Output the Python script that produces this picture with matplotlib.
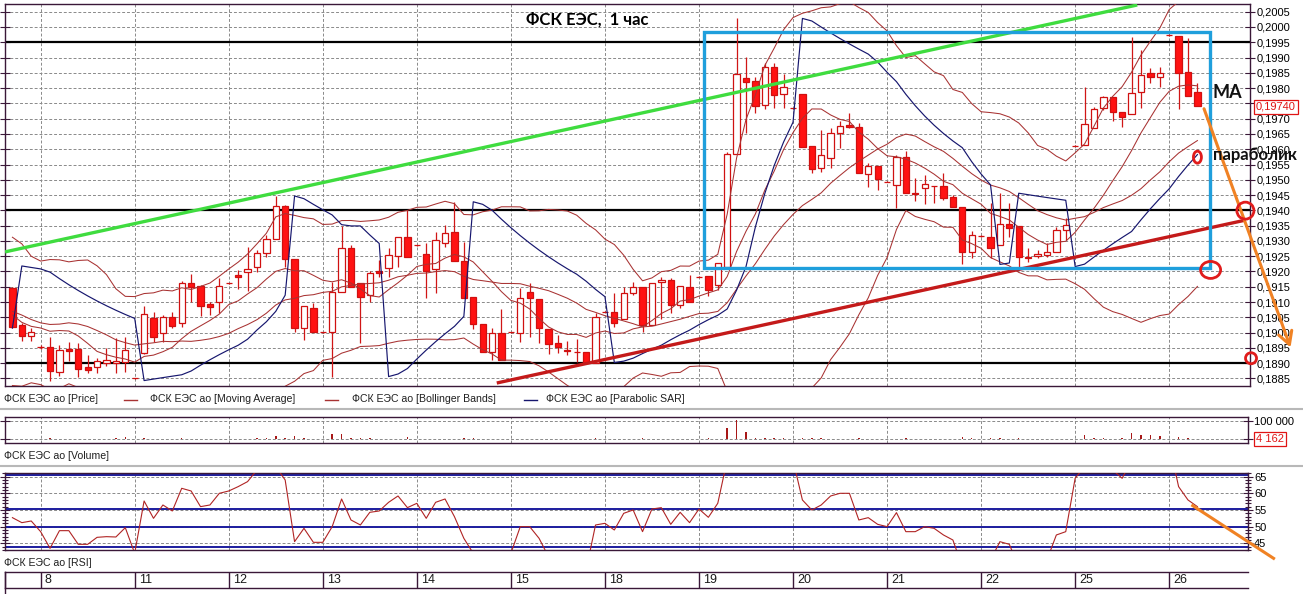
import numpy as np
import pandas as pd
import matplotlib
matplotlib.use("Agg")
import matplotlib.pyplot as plt
from matplotlib.patches import Rectangle, Ellipse, FancyArrowPatch
from matplotlib.lines import Line2D
from matplotlib.ticker import MultipleLocator, FixedLocator
import matplotlib.transforms as mtransforms

# ---------------- data ----------------
day_labels = ['8', '11', '12', '13', '14', '15', '18', '19', '20', '21', '22', '25', '26']
day_first_bar = [3, 13, 23, 33, 43, 53, 63, 73, 83, 93, 103, 113, 123]

open_ = [0.19147, 0.19025, 0.18988, 0.18952, 0.18952, 0.18870, 0.18945, 0.18945, 0.18886, 0.18888,
         0.18901, 0.18901, 0.18904, 0.18850, 0.18934, 0.19049, 0.18998, 0.19052, 0.19030, 0.19161,
         0.19152, 0.19093, 0.19099, 0.19161, 0.19187, 0.19197, 0.19214, 0.19259, 0.19305, 0.19414,
         0.19240, 0.19014, 0.19081, 0.19001, 0.19001, 0.19132, 0.19276, 0.19161, 0.19123, 0.19203,
         0.19210, 0.19251, 0.19313, 0.19286, 0.19257, 0.19207, 0.19292, 0.19330, 0.19235, 0.19115,
         0.19028, 0.18935, 0.18998, 0.19001, 0.19000, 0.19134, 0.19109, 0.19012, 0.18966, 0.18942,
         0.18936, 0.18935, 0.18902, 0.19068, 0.19068, 0.19043, 0.19130, 0.19150, 0.19025, 0.19165,
         0.19172, 0.19090, 0.19150, 0.19183, 0.19185, 0.19156, 0.19216, 0.19584, 0.19832, 0.19823,
         0.19745, 0.19868, 0.19780, 0.19734, 0.19780, 0.19611, 0.19538, 0.19570, 0.19652, 0.19679,
         0.19672, 0.19519, 0.19545, 0.19494, 0.19483, 0.19574, 0.19456, 0.19472, 0.19480, 0.19480,
         0.19445, 0.19410, 0.19265, 0.19316, 0.19312, 0.19287, 0.19355, 0.19349, 0.19248, 0.19251,
         0.19253, 0.19265, 0.19336, 0.19611, 0.19614, 0.19669, 0.19734, 0.19770, 0.19723, 0.19715,
         0.19788, 0.19850, 0.19835, 0.19974, 0.19971, 0.19854, 0.19786]
high = [0.19150, 0.19030, 0.19014, 0.18959, 0.18986, 0.18959, 0.18970, 0.18965, 0.18927, 0.18916,
        0.18949, 0.18981, 0.18986, 0.18853, 0.19087, 0.19068, 0.19058, 0.19068, 0.19169, 0.19191,
        0.19156, 0.19101, 0.19180, 0.19163, 0.19205, 0.19279, 0.19270, 0.19319, 0.19447, 0.19416,
        0.19242, 0.19087, 0.19098, 0.19003, 0.19167, 0.19349, 0.19287, 0.19161, 0.19202, 0.19237,
        0.19276, 0.19313, 0.19401, 0.19288, 0.19292, 0.19330, 0.19351, 0.19428, 0.19297, 0.19115,
        0.19028, 0.19014, 0.19076, 0.19003, 0.19145, 0.19161, 0.19109, 0.19012, 0.18992, 0.18973,
        0.18979, 0.18935, 0.19065, 0.19070, 0.19131, 0.19150, 0.19167, 0.19150, 0.19161, 0.19181,
        0.19178, 0.19153, 0.19188, 0.19185, 0.19185, 0.19227, 0.19590, 0.20028, 0.19901, 0.19837,
        0.19881, 0.19883, 0.19846, 0.19736, 0.19780, 0.19611, 0.19663, 0.19669, 0.19692, 0.19720,
        0.19687, 0.19556, 0.19545, 0.19496, 0.19581, 0.19595, 0.19505, 0.19516, 0.19480, 0.19523,
        0.19450, 0.19410, 0.19333, 0.19318, 0.19423, 0.19456, 0.19425, 0.19349, 0.19276, 0.19270,
        0.19294, 0.19346, 0.19374, 0.19613, 0.19803, 0.19739, 0.19774, 0.19772, 0.19723, 0.19968,
        0.19925, 0.19865, 0.19870, 0.19976, 0.19971, 0.19963, 0.19816]
low = [0.19015, 0.18973, 0.18973, 0.18946, 0.18843, 0.18859, 0.18908, 0.18856, 0.18867, 0.18867,
       0.18891, 0.18867, 0.18872, 0.18848, 0.18930, 0.18970, 0.18970, 0.19014, 0.19019, 0.19101,
       0.19055, 0.19058, 0.19063, 0.19159, 0.19142, 0.19137, 0.19199, 0.19246, 0.19305, 0.19216,
       0.19003, 0.18976, 0.19001, 0.18999, 0.18856, 0.19132, 0.19150, 0.18965, 0.19101, 0.19183,
       0.19183, 0.19216, 0.19248, 0.19284, 0.19112, 0.19129, 0.19280, 0.19235, 0.19114, 0.19012,
       0.18935, 0.18910, 0.18910, 0.18999, 0.18970, 0.18986, 0.18966, 0.18931, 0.18933, 0.18927,
       0.18905, 0.18902, 0.18902, 0.19066, 0.19019, 0.19043, 0.19123, 0.19003, 0.19025, 0.19043,
       0.19063, 0.19079, 0.19099, 0.19181, 0.19120, 0.19139, 0.19216, 0.19584, 0.19652, 0.19718,
       0.19731, 0.19736, 0.19736, 0.19732, 0.19608, 0.19521, 0.19526, 0.19538, 0.19603, 0.19670,
       0.19521, 0.19477, 0.19467, 0.19492, 0.19407, 0.19456, 0.19432, 0.19421, 0.19423, 0.19434,
       0.19410, 0.19223, 0.19243, 0.19314, 0.19243, 0.19287, 0.19314, 0.19216, 0.19232, 0.19243,
       0.19248, 0.19265, 0.19303, 0.19609, 0.19614, 0.19669, 0.19728, 0.19693, 0.19674, 0.19715,
       0.19735, 0.19816, 0.19803, 0.19972, 0.19731, 0.19774, 0.19740]
close = [0.19019, 0.18990, 0.19001, 0.18952, 0.18875, 0.18942, 0.18941, 0.18880, 0.18878, 0.18906,
         0.18910, 0.18908, 0.18943, 0.18850, 0.19061, 0.18986, 0.19052, 0.19023, 0.19161, 0.19148,
         0.19088, 0.19085, 0.19152, 0.19161, 0.19183, 0.19209, 0.19259, 0.19305, 0.19414, 0.19240,
         0.19014, 0.19087, 0.19001, 0.19001, 0.19132, 0.19276, 0.19150, 0.19115, 0.19194, 0.19194,
         0.19254, 0.19313, 0.19248, 0.19286, 0.19203, 0.19303, 0.19327, 0.19235, 0.19114, 0.19027,
         0.18935, 0.18998, 0.18910, 0.19001, 0.19114, 0.19112, 0.19014, 0.18961, 0.18954, 0.18940,
         0.18935, 0.18902, 0.19052, 0.19068, 0.19032, 0.19130, 0.19148, 0.19025, 0.19161, 0.19172,
         0.19090, 0.19153, 0.19099, 0.19183, 0.19139, 0.19227, 0.19584, 0.19846, 0.19821, 0.19741,
         0.19868, 0.19777, 0.19805, 0.19734, 0.19608, 0.19534, 0.19581, 0.19652, 0.19676, 0.19672,
         0.19521, 0.19545, 0.19501, 0.19494, 0.19576, 0.19456, 0.19455, 0.19485, 0.19479, 0.19439,
         0.19410, 0.19265, 0.19319, 0.19316, 0.19278, 0.19354, 0.19341, 0.19246, 0.19243, 0.19257,
         0.19264, 0.19336, 0.19352, 0.19611, 0.19682, 0.19732, 0.19770, 0.19723, 0.19704, 0.19783,
         0.19843, 0.19835, 0.19850, 0.19974, 0.19848, 0.19774, 0.19740]

# closes before the first visible bar (estimated so the bands start as in the picture)
warmup_close = [0.19231, 0.19294, 0.19169, 0.18981, 0.18919, 0.18856, 0.18956, 0.19044, 0.19169, 0.19194,
                0.19231, 0.19131, 0.19006, 0.18981, 0.18919, 0.18956, 0.19044, 0.19119, 0.19169]
sar_start = 0.19015
sar_ep_start = 0.19218

volume = [3000, 2000, 4000, 1500, 5000, 3000, 2000, 4000, 2000, 3000,
          2000, 5000, 14500, 1000, 6000, 3000, 2000, 4000, 5000, 3000,
          2000, 3000, 4000, 2000, 3000, 2000, 5000, 6000, 20000, 9000,
          20000, 5000, 3000, 1000, 27000, 27000, 6000, 8000, 5000, 3000,
          4000, 2000, 14500, 2000, 3000, 4000, 2000, 3000, 6000, 5000,
          4000, 3000, 2000, 1000, 3000, 2000, 4000, 3000, 2000, 2000,
          3000, 4000, 6000, 1000, 3000, 2000, 3000, 5000, 4000, 2000,
          3000, 2000, 4000, 1000, 5000, 4000, 60000, 105000, 42000, 9000,
          9000, 9000, 6000, 1000, 8000, 6000, 5000, 4000, 3000, 2000,
          5000, 3000, 4000, 1000, 3000, 5000, 2000, 3000, 2000, 4000,
          3000, 14500, 5000, 1000, 6000, 5000, 4000, 6000, 3000, 2000,
          3000, 4000, 3000, 1000, 24000, 6000, 5000, 4000, 6000, 36000,
          24000, 24000, 20000, 2000, 14500, 5000, 4162]

rsi = [52.7, 51.2, 51.7, 48.5, 43.5, 48.8, 48.8, 44.7, 44.7, 46.8,
       47.0, 46.9, 49.7, 42.0, 57.7, 52.5, 56.5, 54.7, 61.5, 60.7,
       56.0, 56.5, 60.0, 60.7, 62.0, 63.5, 67.0, 70.0, 68.0, 64.0,
       45.5, 49.5, 45.3, 45.3, 50.0, 58.3, 52.0, 50.5, 54.3, 54.7,
       57.3, 59.2, 55.7, 57.0, 52.5, 57.3, 58.3, 53.0, 46.5, 42.0,
       38.0, 40.0, 37.0, 42.0, 50.0, 50.0, 46.5, 41.0, 39.0, 38.0,
       38.0, 37.0, 50.5, 51.0, 49.0, 54.0, 55.0, 48.5, 55.3, 55.7,
       50.7, 54.3, 51.2, 55.3, 52.8, 57.0, 70.0, 80.0, 78.0, 74.0,
       77.0, 72.0, 73.0, 70.0, 58.0, 55.0, 56.5, 59.2, 60.0, 60.0,
       52.0, 52.7, 50.7, 50.0, 54.2, 48.5, 48.5, 50.0, 49.5, 47.5,
       46.0, 38.0, 41.0, 41.0, 40.0, 45.5, 44.7, 38.0, 38.0, 39.0,
       40.0, 47.5, 48.5, 64.5, 68.0, 71.0, 73.0, 67.0, 64.5, 70.0,
       72.0, 71.0, 71.0, 75.0, 62.0, 58.0, 56.0]
rsi_levels = [65.4, 55.2, 49.8, 43.8]

support_levels = [0.1995, 0.1940, 0.1890]
green_trend = ([-0.79, 119.6], [0.19264, 0.20072])
red_trend = ([51.5, 131.1], [0.18835, 0.19368])
box_range = ([73.5, 127.3], [0.19211, 0.19985])
arrow_price = ([126.6, 136.0], [0.19741, 0.18943])
arrow_rsi = ([125.5, 134.1], [56.3, 40.5])
circles = [(131.1, 0.19399, 1.81, 0.000556), (127.4, 0.19205, 2.13, 0.000556),
           (126.0, 0.19574, 0.85, 0.000393), (131.7, 0.18916, 1.17, 0.00036)]
last_price = 0.19740
last_volume = 4162

# ---------------- indicators ----------------
n = len(close)
x = np.arange(n)
allc = pd.Series(warmup_close + close)
k = len(warmup_close)
ma10 = allc.rolling(10, min_periods=1).mean().values[k:]
mid = allc.rolling(20, min_periods=1).mean().values[k:]
sd = allc.rolling(20, min_periods=1).std(ddof=0).values[k:]
bb_up, bb_lo = mid + 2 * sd, mid - 2 * sd

sar = np.zeros(n)
up_tr, s, ep, af = True, sar_start, sar_ep_start, 0.02
for i in range(n):
    if i > 0:
        s = s + af * (ep - s)
        if up_tr:
            s = min(s, low[i - 1], low[max(i - 2, 0)])
        else:
            s = max(s, high[i - 1], high[max(i - 2, 0)])
    if up_tr:
        if low[i] < s:
            up_tr, s, ep, af = False, ep, low[i], 0.02
        elif high[i] > ep:
            ep, af = high[i], min(af + 0.02, 0.2)
    else:
        if high[i] > s:
            up_tr, s, ep, af = True, ep, high[i], 0.02
        elif low[i] < ep:
            ep, af = low[i], min(af + 0.02, 0.2)
    sar[i] = s

# ---------------- figure ----------------
W, H = 1303, 594
fig = plt.figure(figsize=(W / 100, H / 100), dpi=100)
fig.patch.set_facecolor('white')
FONT = 'Liberation Sans'
FRAME = '#3a1838'
GRID = dict(color='#8a8a8a', linestyle=(0, (3, 2)), linewidth=0.7)

def fx(p):
    return p / W

def fy(p):
    return 1 - p / H

XL_MAIN = (-0.79, 131.59)
XL_LOW = (-0.79, 131.38)

def style_frame(ax):
    for sp in ax.spines.values():
        sp.set_color(FRAME)
        sp.set_linewidth(1.0)

# ---- main price panel ----
ax = fig.add_axes([fx(5), fy(386), (1250 - 5) / W, (386 - 4) / H])
style_frame(ax)
ax.set_xlim(*XL_MAIN)
ax.set_ylim(0.188252, 0.200752)
ax.set_xticks(day_first_bar)
ax.set_xticklabels([])
ax.tick_params(axis='x', length=0)
yt = np.round(np.arange(0.1885, 0.20051, 0.0005), 4)
ax.set_yticks(yt)
# the label hidden behind the last-price box in the picture is left blank
ax.set_yticklabels(['' if abs(v - 0.1975) < 1e-6 else f"{v:.4f}".replace('.', ',') for v in yt])
ax.tick_params(axis='y', left=True, right=True, labelleft=False, labelright=True,
               direction='inout', length=7, width=0.8, color=FRAME, labelsize=8, pad=1)
for lab in ax.get_yticklabels():
    lab.set_fontfamily(FONT)
ax.grid(True, **GRID, zorder=0)
ax.set_axisbelow(True)
for lv in support_levels:
    ax.axhline(lv, color='black', lw=1.6, zorder=1)

o = np.array(open_); c = np.array(close)
upc = c >= o
face = np.where(upc, 'white', '#ff1212')
ax.vlines(x, low, high, color='#d01616', lw=0.9, zorder=3)
ax.bar(x, np.abs(c - o), width=0.67, bottom=np.minimum(o, c), color=face,
       edgecolor='#d01010', linewidth=0.9, zorder=4)

ind_col = '#a83232'
for line in (ma10, mid, bb_up, bb_lo):
    ax.plot(x, line, color=ind_col, lw=0.75, zorder=5)
ax.plot(x, sar, color='#16166e', lw=0.85, zorder=5)

ax.plot(*green_trend, color='#3fdc3f', lw=2.4, zorder=6, solid_capstyle='butt')
ax.plot(*red_trend, color='#c41a1a', lw=2.4, zorder=6, solid_capstyle='butt', clip_on=False)
bx, by = box_range
ax.add_patch(Rectangle((bx[0], by[0]), bx[1] - bx[0], by[1] - by[0], fill=False,
                       edgecolor='#1f9fdc', lw=2.4, zorder=6))
ax.add_patch(FancyArrowPatch((arrow_price[0][0], arrow_price[1][0]),
                             (arrow_price[0][1], arrow_price[1][1]),
                             arrowstyle='->,head_length=0.45,head_width=0.25', mutation_scale=20,
                             color='#f08224', lw=2.2, zorder=8, clip_on=False))
for cx, cy, w, h in circles:
    ax.add_patch(Ellipse((cx, cy), w, h, fill=False, edgecolor='#e01c1c', lw=2.0,
                         zorder=8, clip_on=False))

# ---- volume panel ----
axv = fig.add_axes([fx(5), fy(443.3), (1248 - 5) / W, (443.3 - 416.7) / H])
style_frame(axv)
axv.set_xlim(*XL_LOW)
axv.set_ylim(-21900, 123500)
axv.set_xticks(day_first_bar)
axv.set_xticklabels([])
axv.tick_params(axis='x', length=0)
axv.set_yticks([last_volume, 100000])
axv.set_yticklabels(['', '100 000'])
axv.tick_params(axis='y', left=True, right=True, labelleft=False, labelright=True,
                direction='inout', length=7, width=0.8, color=FRAME, labelsize=8, pad=1)
for lab in axv.get_yticklabels():
    lab.set_fontfamily(FONT)
axv.grid(True, **GRID, zorder=0)
axv.set_axisbelow(True)
axv.bar(x, volume, width=0.16, color='#a81818', zorder=3)

# ---- RSI panel ----
axr = fig.add_axes([fx(5), fy(550), (1248 - 5) / W, (550 - 473.3) / H])
style_frame(axr)
axr.set_xlim(*XL_LOW)
axr.set_ylim(43.0, 66.0)
axr.set_xticks(day_first_bar)
axr.set_xticklabels([])
axr.tick_params(axis='x', length=0)
axr.yaxis.set_major_locator(FixedLocator([45, 50, 55, 60, 65]))
axr.yaxis.set_minor_locator(MultipleLocator(1))
axr.tick_params(axis='y', which='both', left=True, right=True, labelleft=False, labelright=True,
                direction='inout', color=FRAME, labelsize=8, pad=1, width=0.8)
axr.tick_params(axis='y', which='major', length=7)
axr.tick_params(axis='y', which='minor', length=4)
for lab in axr.get_yticklabels():
    lab.set_fontfamily(FONT)
axr.grid(True, which='major', **GRID, zorder=0)
axr.set_axisbelow(True)
for lv in rsi_levels:
    axr.axhline(lv, color='#1c1c9e', lw=1.4, zorder=2)
axr.plot(x, rsi, color='#b02424', lw=0.8, zorder=3)
axr.plot(*arrow_rsi, color='#f08224', lw=2.2, zorder=6, clip_on=False)

# ---- date axis ----
axd = fig.add_axes([fx(5), fy(588), (1248 - 5) / W, (588 - 572) / H])
axd.set_xlim(*XL_LOW)
axd.set_ylim(0, 1)
axd.set_xticks([]); axd.set_yticks([])
for side, sp in axd.spines.items():
    sp.set_color(FRAME)
    sp.set_linewidth(1.0)
axd.spines['right'].set_visible(False)
axd.vlines(day_first_bar, 0, 1, color=FRAME, lw=1.0)
off = mtransforms.offset_copy(axd.transData, fig=fig, x=4, y=0, units='dots')
for d, lab in zip(day_first_bar, day_labels):
    axd.text(d, 0.5, lab, transform=off, ha='left', va='center', fontsize=9,
             fontfamily=FONT, color='#1a1a1a')
fig.add_artist(Line2D([fx(5), fx(5)], [fy(572), fy(594)], color=FRAME, lw=1.0))

# ---- separators and legends ----
for py in (409, 466):
    fig.add_artist(Line2D([0, 1], [fy(py), fy(py)], color='#b8b8b8', lw=1.5))

leg_kw = dict(fontsize=7.6, fontfamily=FONT, color='#202020', va='center', ha='left')
fig.text(fx(3.5), fy(399), 'ФСК ЕЭС ао [Price]', **leg_kw)
fig.add_artist(Line2D([fx(124), fx(137)], [fy(399.5), fy(399.5)], color=ind_col, lw=1.0))
fig.text(fx(150), fy(399), 'ФСК ЕЭС ао [Moving Average]', **leg_kw)
fig.add_artist(Line2D([fx(325), fx(338)], [fy(399.5), fy(399.5)], color=ind_col, lw=1.0))
fig.text(fx(351.5), fy(399), 'ФСК ЕЭС ао [Bollinger Bands]', **leg_kw)
fig.add_artist(Line2D([fx(524), fx(537)], [fy(399.5), fy(399.5)], color='#16166e', lw=1.0))
fig.text(fx(546.5), fy(399), 'ФСК ЕЭС ао [Parabolic SAR]', **leg_kw)
fig.text(fx(3.5), fy(456), 'ФСК ЕЭС ао [Volume]', **leg_kw)
fig.text(fx(3.5), fy(563), 'ФСК ЕЭС ао [RSI]', **leg_kw)

# ---- titles / annotations ----
fig.text(fx(587.5), fy(19.5), 'ФСК ЕЭС,  1 час', fontsize=12, fontweight='bold',
         fontfamily='Lato', ha='center', va='center', color='black')
fig.text(fx(1213), fy(92), 'MA', fontsize=13, fontweight='bold', fontfamily='Lato',
         ha='left', va='center', color='#111111', zorder=9)
fig.text(fx(1213.5), fy(155), 'параболик', fontsize=12, fontweight='bold', fontfamily='Lato',
         ha='left', va='center', color='#111111', zorder=9)

box_kw = dict(boxstyle='square,pad=0.18', fc='white', ec='#e01414', lw=0.9)
fig.text(fx(1256), fy(106.5), f"{last_price:.5f}".replace('.', ','), fontsize=8, fontfamily=FONT,
         color='#e01414', ha='left', va='center', bbox=box_kw, zorder=9)
fig.text(fx(1256), fy(439), f"{last_volume:,}".replace(',', ' '), fontsize=8, fontfamily=FONT,
         color='#e01414', ha='left', va='center', bbox=box_kw, zorder=9)

fig.savefig('out.png', dpi=100, facecolor='white')
